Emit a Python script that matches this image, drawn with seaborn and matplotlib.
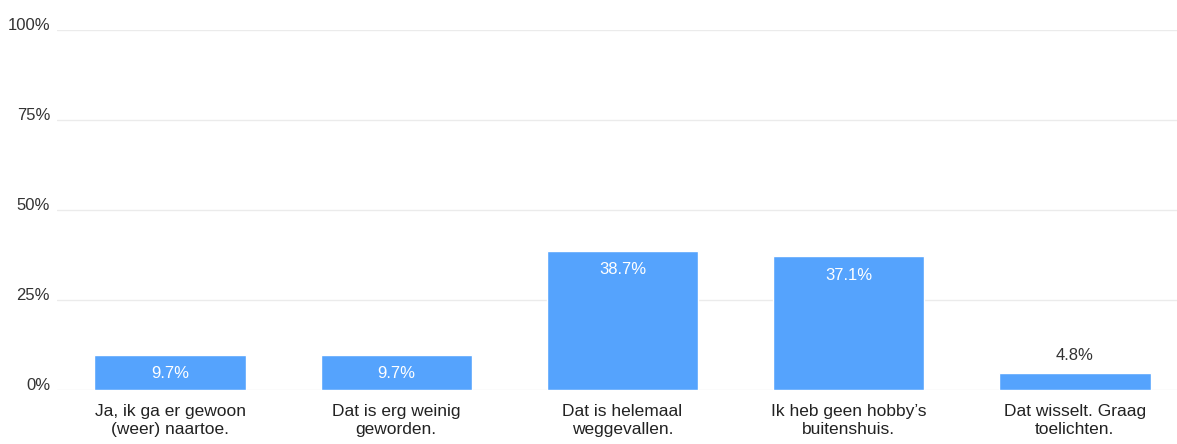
import matplotlib
matplotlib.use("Agg")
import matplotlib.pyplot as plt
import matplotlib.transforms as mtransforms
import seaborn as sns
import pandas as pd

categories = ["Ja, ik ga er gewoon\n(weer) naartoe.",
              "Dat is erg weinig\ngeworden.",
              "Dat is helemaal\nweggevallen.",
              "Ik heb geen hobby’s\nbuitenshuis.",
              "Dat wisselt. Graag\ntoelichten."]
values = [9.7, 9.7, 38.7, 37.1, 4.8]
yticks = [0, 25, 50, 75, 100]
ytick_labels = ["0%", "25%", "50%", "75%", "100%"]

sns.set_theme(style="white")
plt.rcParams['font.family'] = ['Liberation Sans', 'DejaVu Sans']

fig = plt.figure(figsize=(11.77, 4.44), dpi=100)
ax = fig.add_axes([57/1177, 54/444, 1131/1177, 360/444])

df = pd.DataFrame({"cat": categories, "val": values})
sns.barplot(data=df, x="cat", y="val", color="#55a3fd", saturation=1,
            width=0.67, ax=ax)

ax.set_xlim(-0.5, 4.5)
ax.set_ylim(0, 100)
ax.set_yticks(yticks)
ax.set_yticklabels(ytick_labels, fontsize=12, color="#333333")
for y in yticks:
    ax.axhline(y, color="#ebebeb", lw=1, zorder=0)
ax.set_xlabel("")
ax.set_ylabel("")
ax.tick_params(axis="x", labelsize=12.5, colors="#222222", length=0, pad=10)
ax.tick_params(axis="y", length=0, pad=5)
offset = mtransforms.ScaledTranslation(0, 4/72, fig.dpi_scale_trans)
for lab in ax.get_yticklabels():
    lab.set_transform(lab.get_transform() + offset)
for lab in ax.get_xticklabels():
    lab.set_linespacing(1.25)
for s in ax.spines.values():
    s.set_visible(False)

for i, v in enumerate(values):
    if v > 8:
        ax.annotate(f"{v}%", (i, v), xytext=(0, -8), textcoords="offset points",
                    ha="center", va="top", color="white", fontsize=12)
    else:
        ax.annotate(f"{v}%", (i, v), xytext=(0, 7), textcoords="offset points",
                    ha="center", va="bottom", color="#333333", fontsize=12)

fig.savefig("out.png", dpi=100)
